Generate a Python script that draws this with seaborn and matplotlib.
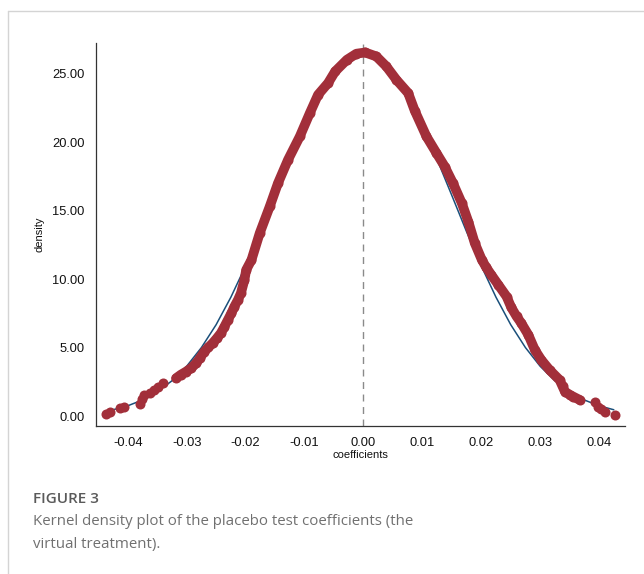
import matplotlib
matplotlib.use("Agg")
import matplotlib.pyplot as plt
from matplotlib.lines import Line2D
import seaborn as sns
import numpy as np
import pandas as pd

# kernel density of placebo coefficients (red dots)
kd_x = [-0.0437, -0.0430, -0.0413, -0.0406, -0.0380, -0.0376, -0.0372, -0.0363, -0.0356,
        -0.0349, -0.0341, -0.0318, -0.0310, -0.0301, -0.0292, -0.0284, -0.0277, -0.0270,
        -0.0263, -0.0256, -0.0249, -0.0242, -0.0236, -0.0230, -0.0224, -0.0219, -0.0213,
        -0.0208, -0.0202, -0.0199, -0.0190, -0.0176, -0.0159, -0.0145, -0.0128, -0.0108,
        -0.0091, -0.0077, -0.0060, -0.0048, -0.0028, -0.0012, 0.0003, 0.0022, 0.0039,
        0.0056, 0.0076, 0.0087, 0.0107, 0.0124, 0.0138, 0.0152, 0.0167, 0.0178, 0.0189,
        0.0201, 0.0208, 0.0217, 0.0229, 0.0243, 0.0251, 0.0260, 0.0268, 0.0280, 0.0291,
        0.0302, 0.0316, 0.0333, 0.0338, 0.0342, 0.0350, 0.0356, 0.0367, 0.0393, 0.0398,
        0.0404, 0.0410, 0.0427]
kd_y = [0.20, 0.33, 0.61, 0.73, 0.93, 1.25, 1.58, 1.75, 1.95,
        2.19, 2.43, 2.80, 3.05, 3.28, 3.55, 3.89, 4.30, 4.74,
        5.05, 5.35, 5.70, 6.08, 6.55, 7.05, 7.55, 8.02, 8.50,
        8.99, 9.96, 10.69, 11.42, 13.37, 15.31, 17.01, 18.71, 20.41,
        22.11, 23.45, 24.30, 25.15, 26.00, 26.44, 26.53, 26.24, 25.51,
        24.54, 23.57, 22.30, 20.41, 19.20, 18.22, 17.01, 15.55, 14.21, 12.64,
        11.42, 10.90, 10.33, 9.60, 8.75, 7.95, 7.30, 6.81, 5.95, 4.86,
        4.13, 3.40, 2.67, 2.20, 1.82, 1.60, 1.46, 1.22, 1.09, 0.73,
        0.55, 0.36, 0.12]

# normal density overlay (blue line)
norm_x = [-0.0425, -0.0400, -0.0375, -0.0350, -0.0325, -0.0300, -0.0275, -0.0250, -0.0225,
          -0.0200, -0.0175, -0.0150, -0.0125, -0.0100, -0.0075, -0.0050, -0.0025, 0.0,
          0.0025, 0.0050, 0.0075, 0.0100, 0.0125, 0.0150, 0.0175, 0.0200, 0.0225,
          0.0250, 0.0275, 0.0300, 0.0325, 0.0350, 0.0375, 0.0400, 0.0425]
norm_y = [0.50, 0.79, 1.21, 1.80, 2.61, 3.67, 5.03, 6.70, 8.70,
          10.98, 13.48, 16.12, 18.74, 21.21, 23.34, 25.00, 26.04, 26.40,
          26.04, 25.00, 23.34, 21.21, 18.74, 16.12, 13.48, 10.98, 8.70,
          6.70, 5.03, 3.67, 2.61, 1.80, 1.21, 0.79, 0.50]

x_ticks = [-0.04, -0.03, -0.02, -0.01, 0.00, 0.01, 0.02, 0.03, 0.04]
y_ticks = [0, 5, 10, 15, 20, 25]

red = "#a22f3a"
navy = "#1a4f7a"

sns.set_style("white")
plt.rcParams["font.family"] = ["Liberation Sans", "DejaVu Sans"]
plt.rcParams["axes.unicode_minus"] = False

kd = pd.DataFrame({"coef": kd_x, "density": kd_y})
nd = pd.DataFrame({"coef": norm_x, "density": norm_y})
dense = kd[(kd["coef"] > -0.032) & (kd["coef"] < 0.037)]

fig = plt.figure(figsize=(6.44, 5.74), dpi=100)
ax = fig.add_axes([0.149, 0.2584, 0.8215, 0.6662])

sns.lineplot(data=nd, x="coef", y="density", color=navy, linewidth=1.1, ax=ax, zorder=2)
sns.lineplot(data=dense, x="coef", y="density", color=red, linewidth=7.0, ax=ax,
             zorder=3, solid_capstyle="round", solid_joinstyle="round")
sns.scatterplot(data=kd, x="coef", y="density", color=red, s=52, linewidth=0, ax=ax, zorder=4)
ax.axvline(0, color="#8a8a8a", linestyle=(0, (5, 4)), linewidth=1.0, zorder=1)

ax.set_xlim(-0.0454, 0.0444)
ax.set_ylim(-0.66, 27.2)
ax.set_xticks(x_ticks)
ax.set_xticklabels([f"{v:.2f}" for v in x_ticks])
ax.set_yticks(y_ticks)
ax.set_yticklabels([f"{v:.2f}" for v in y_ticks])
ax.tick_params(axis="both", direction="out", length=5, width=0.8, color="#333333",
               labelsize=9.3, labelcolor="#111111", pad=3)
ax.set_xlabel("coefficients", fontsize=8, labelpad=1, color="#111111")
ax.set_ylabel("density", fontsize=8, labelpad=6, color="#111111")
for side in ["top", "right"]:
    ax.spines[side].set_visible(False)
for side in ["left", "bottom"]:
    ax.spines[side].set_color("#333333")
    ax.spines[side].set_linewidth(0.9)

# frame of the figure panel
fig.add_artist(Line2D([8 / 644, 8 / 644], [0, 1 - 11 / 574], transform=fig.transFigure,
                      color="#d4d4d4", linewidth=1.0))
fig.add_artist(Line2D([8 / 644, 1], [1 - 11 / 574, 1 - 11 / 574], transform=fig.transFigure,
                      color="#d4d4d4", linewidth=1.0))

fig.text(33 / 644, 1 - 503 / 574, "FIGURE 3", fontsize=11, fontweight="semibold",
         color="#5a5a5a", family=["Open Sans", "DejaVu Sans"], va="baseline")
fig.text(33 / 644, 1 - 525 / 574, "Kernel density plot of the placebo test coefficients (the",
         fontsize=10.8, color="#707070", family=["Open Sans", "DejaVu Sans"], va="baseline")
fig.text(33 / 644, 1 - 548 / 574, "virtual treatment).",
         fontsize=10.8, color="#707070", family=["Open Sans", "DejaVu Sans"], va="baseline")

fig.savefig("out.png", dpi=100)
